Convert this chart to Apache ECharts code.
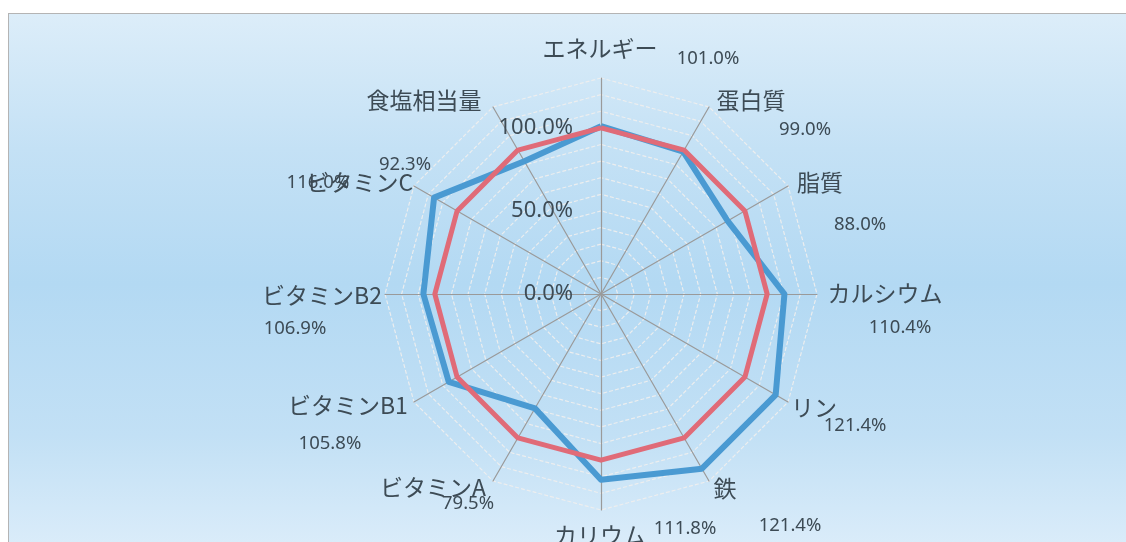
<!DOCTYPE html>
<html>
<head>
<meta charset="utf-8">
<title>栄養素充足率レーダーチャート</title>
<script src="https://cdn.jsdelivr.net/npm/echarts@6/dist/echarts.min.js"></script>
<style>
  html, body { margin: 0; padding: 0; width: 1126px; height: 542px; overflow: hidden; background: #fff; }
  #frame {
    position: absolute; left: 8px; top: 13px; width: 1130px; height: 540px;
    border: 1px solid #b4b4b4;
    background: linear-gradient(to bottom, #dcedf9 0%, #c4e1f5 25%, #b3d9f3 50%, #c2e0f5 78%, #dcedfa 100%);
  }
  #chart { position: absolute; left: 0; top: 0; width: 1126px; height: 542px; }
</style>
</head>
<body>
<div id="frame"></div>
<div id="chart"></div>
<script>
  // 項目（Excel の並び：上から時計回り）
  const categories = ['エネルギー', '蛋白質', '脂質', 'カルシウム', 'リン', '鉄', 'カリウム', 'ビタミンA', 'ビタミンB1', 'ビタミンB2', 'ビタミンC', '食塩相当量'];
  // 充足率 (%)
  const intakeValues = [101.0, 99.0, 88.0, 110.4, 121.4, 121.4, 111.8, 79.5, 105.8, 106.9, 116.0, 92.3];
  // 基準 (%)
  const targetValues = [100, 100, 100, 100, 100, 100, 100, 100, 100, 100, 100, 100];
  const axisMax = 130;

  // label nudges from the axis end, [dx, dy] in px
  const nameOffset = [[-1, -30], [42, -7], [32, -4], [68, -1], [26, 5], [16, 7], [-1, 25], [-60, 6], [-66, 3], [-63, 1], [-54, -4], [-69, -7]];
  const valueOffset = [[107, -20], [96, 23], [72, 38], [83, 33], [67, 23], [81, 44], [84, 18], [-25, 22], [-84, 41], [-90, 34], [-96, -4], [-88, 58]];

  const textColor = '#3d4b55';
  const nameSize = 23;
  const valueSize = 18.5;
  const center = [601, 294];
  const radius = 216;

  // echarts radar runs counter-clockwise, so flip the order after the first item
  const order = [0].concat(categories.map((_, i) => i).slice(1).reverse());
  const pick = (arr) => order.map((i) => arr[i]);

  // top aligned text moved by padding (zrender ignores vertical padding for 'middle')
  const nudge = ([dx, dy], size) => ({
    align: 'center',
    verticalAlign: 'top',
    padding: [dy - size / 2, Math.max(-2 * dx, 0), 0, Math.max(2 * dx, 0)],
  });

  const nameIndicators = order.map((i, k) => ({
    name: categories[i],
    min: 0,
    max: axisMax,
    nameGap: 0,
    nameTextStyle: nudge(nameOffset[i], nameSize),
    axisLabel: k === 0 ? { show: true } : undefined,
  }));

  const valueIndicators = order.map((i) => ({
    name: intakeValues[i].toFixed(1) + '%',
    min: 0,
    max: axisMax,
    nameGap: 0,
    nameTextStyle: nudge(valueOffset[i], valueSize),
  }));

  const chart = echarts.init(document.getElementById('chart'));
  chart.setOption({
    backgroundColor: 'transparent',
    animation: false,
    radar: [
      {
        center,
        radius,
        startAngle: 90,
        splitNumber: 13,
        shape: 'polygon',
        indicator: nameIndicators,
        axisName: {
          color: textColor,
          fontSize: nameSize,
          fontFamily: '"Noto Sans CJK JP", sans-serif',
        },
        axisLine: { lineStyle: { color: '#9a9a9a', width: 1.2 } },
        splitLine: { lineStyle: { color: 'rgba(238,238,238,0.95)', width: 1.2, type: [4, 2] } },
        splitArea: { show: false },
        axisTick: { show: false },
        axisLabel: {
          show: false,
          color: textColor,
          fontSize: 22,
          fontFamily: '"Noto Sans", sans-serif',
          margin: 28,
          formatter: (v) => (v % 50 === 0 && v <= 100 ? v.toFixed(1) + '%' : ''),
        },
      },
      {
        center,
        radius,
        startAngle: 90,
        splitNumber: 13,
        shape: 'polygon',
        indicator: valueIndicators,
        axisName: {
          color: textColor,
          fontSize: valueSize,
          fontFamily: '"Noto Sans", sans-serif',
        },
        axisLine: { show: false },
        splitLine: { show: false },
        splitArea: { show: false },
        axisTick: { show: false },
        axisLabel: { show: false },
      },
    ],
    series: [
      {
        type: 'radar',
        radarIndex: 0,
        symbol: 'none',
        data: [
          { name: '摂取', value: pick(intakeValues), lineStyle: { color: '#4a9ad2', width: 6 } },
        ],
      },
      {
        type: 'radar',
        radarIndex: 0,
        symbol: 'none',
        data: [
          { name: '基準', value: pick(targetValues), lineStyle: { color: '#e06b78', width: 5 } },
        ],
      },
    ],
  });
</script>
</body>
</html>
